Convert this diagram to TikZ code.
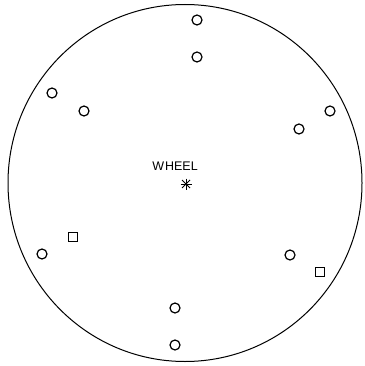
\documentclass[tikz,border=0pt]{standalone}
\usepackage{fontspec}
\setmainfont{Liberation Sans}
\begin{document}
\begin{tikzpicture}[x=1pt,y=-1pt,
  hole/.style={draw=black,line width=1.2pt,circle,minimum size=10pt,inner sep=0pt},
  sqhole/.style={draw=black,line width=1.2pt,rectangle,minimum size=9pt,inner sep=0pt},
  rim/.style={draw=black,line width=1pt},
  star/.style={line width=1pt}]
\useasboundingbox (0,0) rectangle (364,366);
\fill[white] (0,0) rectangle (364,366);
\draw[rim] (185,183) ellipse [x radius=177, y radius=178.5];
\node[hole] (h1) at (197,20) {};
\node[hole] (h2) at (197,57) {};
\node[hole] (h3) at (52,93) {};
\node[hole] (h4) at (84,111) {};
\node[hole] (h5) at (330,111) {};
\node[hole] (h6) at (299,129) {};
\node[sqhole] (s1) at (73,237) {};
\node[hole] (h7) at (42,254) {};
\node[hole] (h8) at (290,255) {};
\node[sqhole] (s2) at (320,272) {};
\node[hole] (h9) at (175,308) {};
\node[hole] (h10) at (175,345) {};
\node[font=\fontsize{12.5}{14}\selectfont,inner sep=0pt,anchor=base] (lbl) at (175,170) {W\kern1pt HEEL};
\coordinate (c) at (186,184);
\begin{scope}[shift={(c)}]
\draw[star] (-5.5,0) -- (5.5,0);
\draw[star] (0,-5.5) -- (0,5.5);
\draw[star] (-4,-4) -- (4,4);
\draw[star] (-4,4) -- (4,-4);
\end{scope}
\end{tikzpicture}
\end{document}
